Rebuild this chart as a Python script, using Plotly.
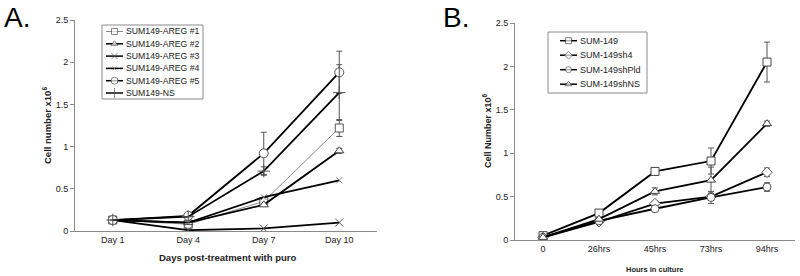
import plotly.graph_objects as go

# ---------------- Panel A data ----------------
days = ["Day 1", "Day 4", "Day 7", "Day 10"]
areg1 = [0.13, 0.08, 0.35, 1.22]
areg2 = [0.13, 0.10, 0.31, 0.95]
areg3 = [0.13, 0.01, 0.03, 0.10]
areg4 = [0.13, 0.10, 0.40, 0.60]
areg5 = [0.13, 0.18, 0.92, 1.88]
ns_a = [0.13, 0.17, 0.71, 1.64]
err_areg1 = [None, None, None, 0.10]
err_areg2 = [None, None, None, 0.03]
err_areg5 = [None, None, 0.25, 0.25]
err_ns_a = [None, None, 0.05, 0.33]

# ---------------- Panel B data ----------------
hours = ["0", "26hrs", "45hrs", "73hrs", "94hrs"]
sum149 = [0.05, 0.31, 0.79, 0.91, 2.05]
sh4 = [0.03, 0.21, 0.42, 0.50, 0.78]
shpld = [0.03, 0.22, 0.36, 0.49, 0.61]
shns = [0.03, 0.24, 0.56, 0.69, 1.34]
err_sum149 = [None, 0.02, 0.02, 0.15, 0.23]
err_sh4 = [None, 0.02, 0.03, 0.03, 0.05]
err_shpld = [None, 0.02, 0.03, 0.07, 0.05]
err_shns = [None, 0.02, 0.04, 0.15, 0.03]

FONT = "Liberation Sans, Arial, sans-serif"
AX = "#8a8a8a"
W, H = 800, 276


def px(v):
    return v / W


def py(v):
    return 1 - v / H


def errs(e):
    return [float("nan") if v is None else v for v in e]


fig = go.Figure()
annotations = []
shapes = []


def marker_style(symbol, size, mcol):
    if "thin" in symbol:
        return dict(symbol=symbol, size=size, color=mcol,
                    line=dict(color=mcol, width=1))
    return dict(symbol=symbol, size=size, color="white",
                line=dict(color=mcol, width=1))


def add(x, y, name, symbol, xa, ya, lc="black", lw=1.8, mcol="black",
        size=7, err=None):
    tr = dict(
        x=x, y=y, name=name, mode="lines+markers", xaxis=xa, yaxis=ya,
        showlegend=False,
        line=dict(color=lc, width=lw),
        marker=marker_style(symbol, size, mcol),
    )
    if err is not None:
        tr["error_y"] = dict(type="data", array=errs(err), symmetric=True,
                             color="#555555", thickness=1, width=3)
    fig.add_trace(go.Scatter(**tr))


# series styles: (name, data, symbol, line colour, line width, marker colour, size, err)
series_a = [
    ("SUM149-AREG #1", areg1, "square", "#8c8c8c", 1, "#555555", 8, err_areg1),
    ("SUM149-AREG #2", areg2, "triangle-up", "black", 1.8, "#444444", 8, err_areg2),
    ("SUM149-AREG #3", areg3, "x-thin-open", "black", 1.8, "#555555", 8, None),
    ("SUM149-AREG #4", areg4, "x-thin-open", "black", 1.8, "#777777", 6, None),
    ("SUM149-AREG #5", areg5, "circle", "black", 1.8, "#555555", 9, err_areg5),
    ("SUM149-NS", ns_a, "cross-thin-open", "black", 1.8, "#555555", 9, err_ns_a),
]
series_b = [
    ("SUM-149", sum149, "square", "black", 1.8, "#444444", 8, err_sum149),
    ("SUM-149sh4", sh4, "diamond", "black", 1.8, "#555555", 8, err_sh4),
    ("SUM-149shPld", shpld, "circle", "black", 1.8, "#555555", 8, err_shpld),
    ("SUM-149shNS", shns, "triangle-up", "black", 1.8, "#444444", 8, err_shns),
]

for name, d, sym, lc, lw, mc, sz, e in series_a:
    add(days, d, name, sym, "x", "y", lc=lc, lw=lw, mcol=mc, size=sz, err=e)
for name, d, sym, lc, lw, mc, sz, e in series_b:
    add(hours, d, name, sym, "x2", "y2", lc=lc, lw=lw, mcol=mc, size=sz, err=e)


# ---------- custom compact legends (pixel-based overlay axis) ----------
def legend(series, box, first_y, step, key_x0, key_x1, text_x, fsize):
    x0, y0, x1, y1 = box
    shapes.append(dict(type="rect", xref="paper", yref="paper",
                       x0=px(x0), x1=px(x1), y0=py(y1), y1=py(y0),
                       line=dict(color=AX, width=1), fillcolor="white",
                       layer="below"))
    for i, (name, d, sym, lc, lw, mc, sz, e) in enumerate(series):
        yy = first_y + i * step
        km = (key_x0 + key_x1) / 2
        ksz = sz - 2
        fig.add_trace(go.Scatter(
            x=[key_x0, km, key_x1], y=[yy, yy, yy], mode="lines+markers",
            xaxis="x3", yaxis="y3", showlegend=False, hoverinfo="skip",
            line=dict(color=lc, width=min(lw, 1.5)),
            marker=dict(marker_style(sym, ksz, mc), size=[0, ksz, 0]),
        ))
        annotations.append(dict(
            text=name, x=px(text_x), y=py(yy), xref="paper", yref="paper",
            xanchor="left", yanchor="middle", showarrow=False,
            font=dict(family=FONT, size=fsize, color="#222")))


legend(series_a, (102, 25, 203, 99), 31.5, 12.3, 106, 123, 124, 8.7)
legend(series_b, (548, 32, 647, 93), 40.7, 14.5, 560, 577, 578, 9)

xcommon = dict(type="category", showline=True, linecolor=AX, linewidth=1,
               showgrid=False, zeroline=False, ticks="", automargin=False,
               tickfont=dict(family=FONT, size=9, color="#222"))
ycommon = dict(range=[0, 2.5], dtick=0.5, showline=True, linecolor=AX,
               linewidth=1, showgrid=False, zeroline=False, ticks="outside",
               ticklen=4, tickcolor=AX, automargin=False,
               tickfont=dict(family=FONT, size=9, color="#222"))


def note(text, x, y, size, angle=0, xanchor="center", yanchor="middle",
         color="#222"):
    annotations.append(dict(
        text=text, x=px(x), y=py(y), xref="paper", yref="paper",
        xanchor=xanchor, yanchor=yanchor, showarrow=False, textangle=angle,
        font=dict(family=FONT, size=size, color=color)))


note("A.", 2, 0, 28, xanchor="left", yanchor="top", color="black")
note("B.", 441, 0, 28, xanchor="left", yanchor="top", color="black")
note("<b>Cell number x10<sup>6</sup></b>", 47, 126, 9.5, angle=-90)
note("<b>Cell Number x10<sup>6</sup></b>", 487, 131, 9, angle=-90)
note("<b>Days post-treatment with puro</b>", 227, 257, 9.5)
note("<b>Hours in culture</b>", 655, 269, 7.5)

fig.update_layout(
    width=W, height=H,
    margin=dict(l=0, r=0, t=0, b=0, autoexpand=False),
    paper_bgcolor="white", plot_bgcolor="rgba(0,0,0,0)",
    showlegend=False,
    xaxis=dict(domain=[px(75), px(377)], range=[-0.5, 3.5], anchor="y",
               **xcommon),
    yaxis=dict(domain=[py(231), py(20)], anchor="x", **ycommon),
    xaxis2=dict(domain=[px(515), px(795)], range=[-0.5, 4.5], anchor="y2",
                **xcommon),
    yaxis2=dict(domain=[py(240), py(23)], anchor="x2", **ycommon),
    xaxis3=dict(domain=[0, 1], range=[0, W], visible=False, anchor="y3",
                fixedrange=True),
    yaxis3=dict(domain=[0, 1], range=[H, 0], visible=False, anchor="x3",
                fixedrange=True),
    annotations=annotations,
    shapes=shapes,
)

fig.write_html(
    "out.html",
    config={"displayModeBar": False},
    post_script="document.body.style.margin='0px';"
                "document.body.style.overflow='hidden';",
)
